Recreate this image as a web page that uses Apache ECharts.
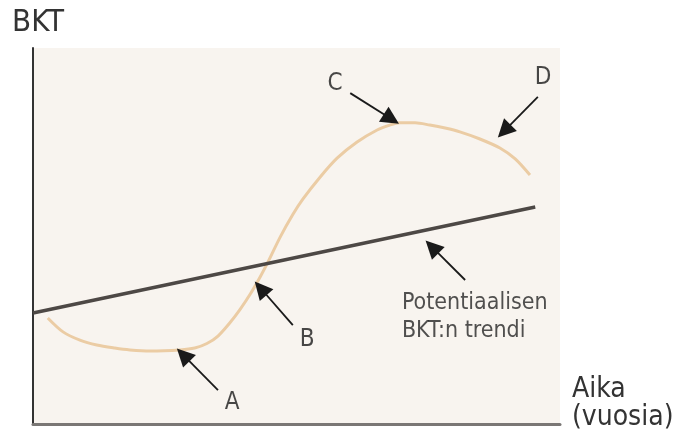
<!DOCTYPE html>
<html><head><meta charset="utf-8">
<script src="https://cdn.jsdelivr.net/npm/echarts@6/dist/echarts.min.js"></script>
<style>html,body{margin:0;padding:0;background:#fff}#c{width:680px;height:434px}</style>
</head><body><div id="c"></div>
<script>
const gdpX = [2.8, 5.7, 8.9, 12.1, 15.5, 18.4, 22.2, 27.9, 30.7, 33.0, 35.1, 37.4, 39.3, 41.2, 43.1, 44.6, 46.9, 49.3, 51.2, 54.5, 57.7, 61.5, 65.3, 67.7, 69.6, 72.5, 75.3, 78.2, 81.0, 84.8, 88.6, 91.5, 94.3];
const gdpY = [28.2, 24.5, 22.3, 21.0, 20.2, 19.7, 19.4, 19.7, 20.2, 21.4, 23.4, 27.0, 30.5, 34.5, 39.1, 43.1, 49.7, 55.7, 59.8, 65.7, 70.7, 75.0, 78.2, 79.5, 80.1, 80.1, 79.5, 78.7, 77.7, 75.8, 73.4, 70.5, 66.2];
// Potential GDP trend
const trendX = [0, 95.3];
const trendY = [29.5, 57.7];
// Annotation arrows: label, label position, arrow start, arrow tip
const arrowNames = ['A', 'B', 'C', 'D', 'Potentiaalisen\nBKT:n trendi'];
const labelX = [37.8, 52.0, 57.3, 96.8, 70.0];
const labelY = [5.6, 22.3, 90.4, 92.0, 28.5];
const arrowFromX = [35.1, 49.3, 60.2, 95.8, 82.0];
const arrowFromY = [9.0, 26.3, 88.0, 87.0, 38.3];
const arrowToX = [28.5, 43.2, 68.0, 89.4, 75.7];
const arrowToY = [18.4, 36.1, 81.1, 77.9, 47.1];
const yName = 'BKT';
const xName = 'Aika\n(vuosia)';

const cond = "'DejaVu Sans Condensed','Liberation Sans Narrow',sans-serif";
const chart = echarts.init(document.getElementById('c'), null, {renderer: 'canvas'});
chart.setOption({
  animation: false,
  title: {
    text: xName, left: 572, top: 376, padding: 0,
    textStyle: {fontFamily: cond, fontSize: 28, lineHeight: 28, fontWeight: 'normal', color: '#333'}
  },
  grid: {left: 33, right: 120, top: 48, bottom: 10, outerBoundsMode: 'none', containLabel: false, show: true, backgroundColor: '#f8f4ef', borderWidth: 0},
  xAxis: {
    type: 'value', min: 0, max: 100,
    axisLine: {show: true, onZero: false, lineStyle: {color: '#7a7775', width: 3}},
    axisTick: {show: false}, axisLabel: {show: false}, splitLine: {show: false}
  },
  yAxis: {
    type: 'value', min: 0, max: 100,
    name: yName, nameLocation: 'end', nameGap: 10,
    nameTextStyle: {fontFamily: cond, fontSize: 31, color: '#333', align: 'left', verticalAlign: 'bottom', padding: [0, 0, 0, -21]},
    axisLine: {show: true, onZero: false, lineStyle: {color: '#333', width: 2}},
    axisTick: {show: false}, axisLabel: {show: false}, splitLine: {show: false}
  },
  series: [
    {
      type: 'line', symbol: 'none', z: 3,
      data: trendX.map((x, i) => [x, trendY[i]]),
      lineStyle: {color: '#4d4845', width: 3.5}
    },
    {
      type: 'line', smooth: 0.3, symbol: 'none', z: 2,
      data: gdpX.map((x, i) => [x, gdpY[i]]),
      lineStyle: {color: '#ebcca4', width: 3}
    },
    {
      type: 'lines', coordinateSystem: 'cartesian2d', z: 5,
      symbol: ['none', 'triangle'], symbolSize: [0, 18],
      lineStyle: {color: '#1a1a1a', width: 1.8, opacity: 1},
      data: arrowNames.map((n, i) => ({coords: [[arrowFromX[i], arrowFromY[i]], [arrowToX[i], arrowToY[i]]]}))
    },
    {
      type: 'scatter', symbolSize: 0, z: 6,
      data: arrowNames.map((n, i) => ({name: n, value: [labelX[i], labelY[i]],
        label: i === 4 ? {align: 'left', fontSize: 23, lineHeight: 28, color: '#262626'} : {}})),
      label: {show: true, position: 'inside', formatter: p => p.name, color: '#1a1a1a', fontFamily: cond, fontSize: 24}
    }
  ]
});
</script></body></html>
